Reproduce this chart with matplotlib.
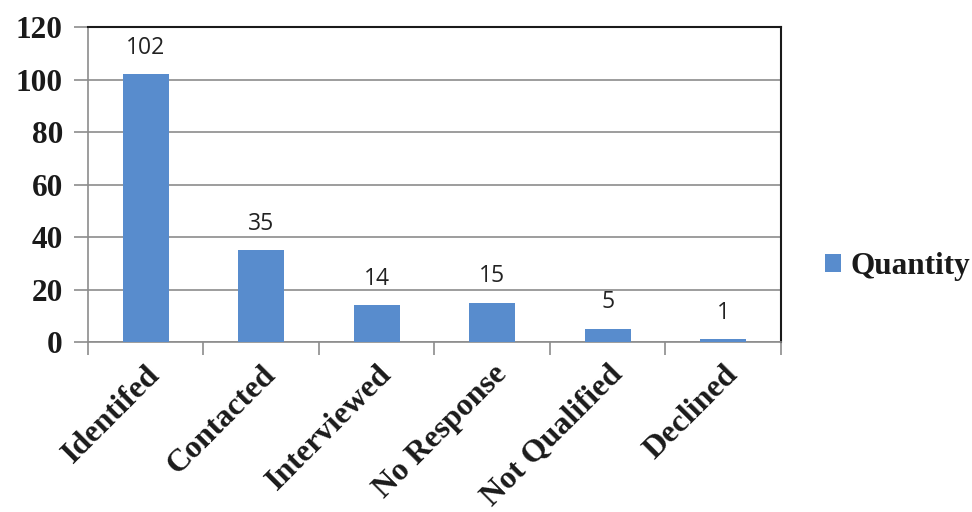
import matplotlib
matplotlib.use("Agg")
import matplotlib.pyplot as plt
import numpy as np
from matplotlib.patches import Patch

categories = ["Identifed", "Contacted", "Interviewed", "No Response", "Not Qualified", "Declined"]
quantity = [102, 35, 14, 15, 5, 1]
y_ticks = [0, 20, 40, 60, 80, 100, 120]

bar_color = "#588ccd"
grid_color = "#8c8c8c"
serif = ["Liberation Serif", "DejaVu Serif"]

figure = plt.figure(figsize=(9.72, 5.12), dpi=100)
axis = figure.add_axes([0.0905, 0.332, 0.713, 0.615])

x = np.arange(len(categories))
axis.bar(x, quantity, width=0.4, color=bar_color, zorder=3)

for xi, value in zip(x, quantity):
    axis.text(xi, value + 5.5, str(value), ha="center", va="bottom",
              fontsize=16.5, family=["Open Sans", "DejaVu Sans"], color="#222222")

axis.set_xlim(-0.5, len(categories) - 0.5)
axis.set_ylim(0, 120)
axis.set_yticks(y_ticks)
axis.set_yticklabels([str(t) for t in y_ticks], fontsize=22.5, fontweight="bold",
                     family=serif, color="#1a1a1a")
axis.yaxis.grid(True, color=grid_color, linewidth=1.2, zorder=0)

axis.set_xticks(np.arange(len(categories) + 1) - 0.5, minor=False)
axis.set_xticklabels([])
axis.set_xticks(x, minor=True)
axis.set_xticklabels(categories, minor=True, rotation=45, ha="right",
                     rotation_mode="anchor", fontsize=23, fontweight="bold",
                     family=serif, color="#1a1a1a")
axis.tick_params(axis="x", which="minor", length=0, pad=13)
axis.tick_params(axis="x", which="major", length=9, width=1.2, color=grid_color, direction="out")
axis.tick_params(axis="y", length=10, width=1.2, color=grid_color, direction="out", pad=8)

axis.spines["left"].set_color(grid_color)
axis.spines["bottom"].set_color(grid_color)
axis.spines["left"].set_linewidth(1.2)
axis.spines["bottom"].set_linewidth(1.2)
axis.spines["top"].set_color("#1a1a1a")
axis.spines["right"].set_color("#1a1a1a")
axis.spines["top"].set_linewidth(1.5)
axis.spines["right"].set_linewidth(1.5)
axis.set_axisbelow(True)

handle = Patch(facecolor=bar_color, label="Quantity")
legend = figure.legend(handles=[handle], loc="center left", bbox_to_anchor=(0.836, 0.479),
                       frameon=False, handlelength=0.5, handleheight=0.5,
                       handletextpad=0.3, borderaxespad=0,
                       prop={"family": serif, "weight": "bold", "size": 22.5})
for text in legend.get_texts():
    text.set_color("#1a1a1a")

figure.savefig("out.png", dpi=100)
